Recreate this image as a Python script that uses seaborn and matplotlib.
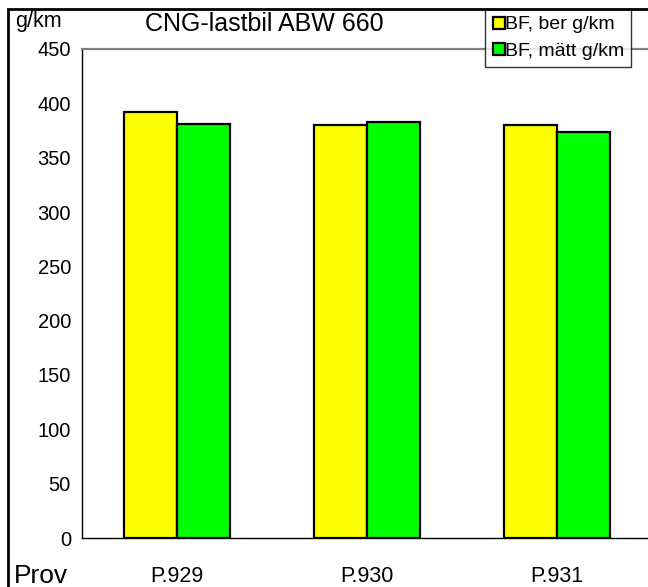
import matplotlib
matplotlib.use("Agg")
import matplotlib.pyplot as plt
from matplotlib.patches import Rectangle
from matplotlib.lines import Line2D
import seaborn as sns
import pandas as pd

# Data
prov = ["P.929", "P.930", "P.931"]
ber_g_km = [392, 380, 380]
matt_g_km = [381, 383, 374]
series_names = ["BF, ber g/km", "BF, mätt g/km"]
yticks = [0, 50, 100, 150, 200, 250, 300, 350, 400, 450]

colors = ["#FFFF00", "#00FF00"]

df = pd.DataFrame({
    "Prov": prov * 2,
    "Serie": [series_names[0]] * len(prov) + [series_names[1]] * len(prov),
    "g/km": ber_g_km + matt_g_km,
})

sns.set_style("white")
plt.rcParams["font.family"] = ["Liberation Sans", "DejaVu Sans"]
plt.rcParams["text.color"] = "black"
plt.rcParams["xtick.color"] = "black"
plt.rcParams["ytick.color"] = "black"

W, H = 648, 587
fig = plt.figure(figsize=(W / 100, H / 100), dpi=100)

# plot area: left 82px, top 49px, bottom 538px, extends past right edge
ax = fig.add_axes([82 / W, (H - 538) / H, (652 - 82) / W, (538 - 49) / H])

sns.barplot(data=df, x="Prov", y="g/km", hue="Serie", palette=colors,
            width=0.56, gap=0, dodge=True, ax=ax, legend=False,
            edgecolor="black", linewidth=1.6, saturation=1)

ax.set_xlim(-0.5, 2.5)
ax.set_ylim(0, 450)
ax.set_yticks(yticks)
ax.set_yticklabels([str(v) for v in yticks], fontsize=14.5, color="black")
ax.set_xticks([0.5, 1.5], minor=False)
ax.set_xticklabels([])
ax.tick_params(axis="y", direction="inout", length=8, width=0.9, color="black", pad=4)
ax.tick_params(axis="x", direction="inout", length=8, width=0.9, color="black")
ax.set_xlabel("")
ax.set_ylabel("")

for i, lab in enumerate(prov):
    ax.text(i, -0.078, lab, transform=ax.get_xaxis_transform(),
            ha="center", va="center", fontsize=15.5, color="black")

for side in ["left", "bottom"]:
    ax.spines[side].set_color("black")
    ax.spines[side].set_linewidth(1.0)
ax.spines["top"].set_color("#808080")
ax.spines["top"].set_linewidth(1.6)
ax.spines["right"].set_visible(False)
ax.grid(False)

# texts
fig.text(15 / W, 1 - 21 / H, "g/km", fontsize=15.5, ha="left", va="center", color="black")
fig.text(264 / W, 1 - 24 / H, "CNG-lastbil ABW 660", fontsize=18, ha="center", va="center", color="black")
fig.text(14 / W, 1 - 576 / H, "Prov", fontsize=19, ha="left", va="center", color="black")

# outer frame
fig.patches.append(Rectangle((8 / W, -0.05), 1.1, 1 - 9 / H + 0.05,
                             transform=fig.transFigure, fill=False,
                             edgecolor="black", linewidth=2.0, zorder=10))

# legend
handles = [Line2D([0], [0], marker="s", linestyle="none", markersize=9,
                  markerfacecolor=c, markeredgecolor="black", markeredgewidth=1.6)
           for c in colors]
leg = fig.legend(handles, series_names, loc="upper left",
                 bbox_to_anchor=(485 / W, 1 - 9 / H), fontsize=14,
                 frameon=True, fancybox=False, borderpad=0.35,
                 handletextpad=0.0, handlelength=0.7, labelspacing=0.45,
                 borderaxespad=0)
leg.get_frame().set_edgecolor("black")
leg.get_frame().set_linewidth(1.0)
for t in leg.get_texts():
    t.set_color("black")

fig.savefig("out.png", dpi=100)
